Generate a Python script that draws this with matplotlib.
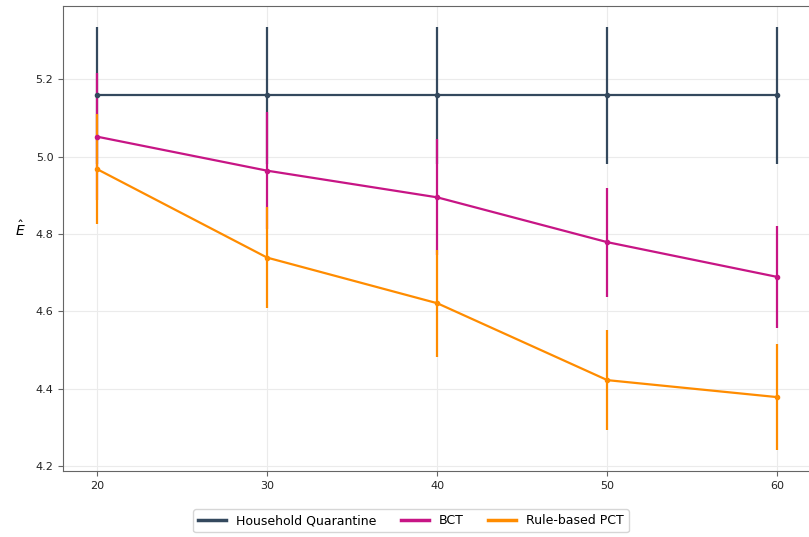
import matplotlib
matplotlib.use("Agg")
import matplotlib.pyplot as plt
from matplotlib.lines import Line2D

# Number of contacts traced per scenario
x_values = [20, 30, 40, 50, 60]

hq_mean = [5.159, 5.159, 5.159, 5.159, 5.159]
hq_err = [0.177, 0.177, 0.177, 0.177, 0.177]

bct_mean = [5.052, 4.964, 4.895, 4.779, 4.689]
bct_err = [0.165, 0.151, 0.150, 0.141, 0.133]

pct_mean = [4.968, 4.739, 4.621, 4.422, 4.378]
pct_err = [0.142, 0.131, 0.139, 0.129, 0.138]

series = [
    ("Household Quarantine", hq_mean, hq_err, "#34495e"),
    ("BCT", bct_mean, bct_err, "#c71585"),
    ("Rule-based PCT", pct_mean, pct_err, "#ff8c00"),
]

fig = plt.figure(figsize=(8.09, 5.37), dpi=100)
ax = fig.add_axes([0.078, 0.123, 0.925, 0.865])

handles = []
for label, mean, err, color in series:
    ax.errorbar(x_values, mean, yerr=err, color=color, linewidth=1.6,
                elinewidth=1.6, marker="o", markersize=3, capsize=0)
    handles.append(Line2D([], [], color=color, linewidth=2.5, label=label))

ax.set_xlim(18, 62)
ax.set_ylim(4.187, 5.389)
ax.set_xticks(x_values)
ax.set_yticks([4.2, 4.4, 4.6, 4.8, 5.0, 5.2])
ax.grid(True, color="#ebebeb", linewidth=0.8)
ax.set_axisbelow(True)

for side in ["left", "bottom", "top"]:
    ax.spines[side].set_color("#666666")
ax.spines["right"].set_visible(False)
ax.tick_params(labelsize=8, colors="#222222")
ax.tick_params(axis="both", color="#666666")

ax.set_ylabel(r"$\hat{E}$", rotation=0, fontsize=10, labelpad=11)

leg = fig.legend(handles=handles, loc="center", bbox_to_anchor=(0.508, 0.030),
                 ncol=3, fontsize=9, frameon=True, handlelength=2.2,
                 columnspacing=2.0)
leg.get_frame().set_edgecolor("#cccccc")

fig.savefig("out.png", dpi=100)
